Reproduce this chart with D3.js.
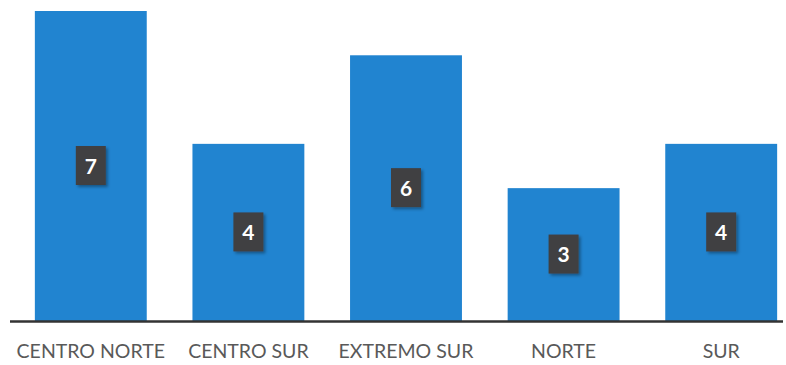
<!DOCTYPE html>
<html><head><meta charset="utf-8">
<script src="https://cdn.jsdelivr.net/npm/d3@7"></script>
<style>body{margin:0;background:#fff}</style>
</head><body>
<svg id="c" width="786" height="365"></svg>
<script>
const categories = ["CENTRO NORTE","CENTRO SUR","EXTREMO SUR","NORTE","SUR"];
const values = [7,4,6,3,4];

const svg = d3.select("#c");
const x = d3.scaleBand().domain(categories).range([12,800]).paddingInner(0.29).paddingOuter(0.145);
const y = d3.scaleLinear().domain([0,7]).range([321,11]);

const defs = svg.append("defs");
const f = defs.append("filter").attr("id","sh").attr("x","-30%").attr("y","-30%").attr("width","170%").attr("height","170%");
f.append("feDropShadow").attr("dx",2).attr("dy",2).attr("stdDeviation",1.5).attr("flood-color","#000").attr("flood-opacity",0.35);

svg.selectAll("rect.bar").data(values).join("rect").attr("class","bar")
  .attr("x",(d,i)=>x(categories[i])).attr("width",x.bandwidth())
  .attr("y",d=>y(d)).attr("height",d=>y(0)-y(d)).attr("fill","#2184d0");

svg.append("line").attr("x1",10).attr("x2",783).attr("y1",y(0)+0.5).attr("y2",y(0)+0.5)
  .attr("stroke","#333").attr("stroke-width",2.5);

const g = svg.selectAll("g.lbl").data(values).join("g").attr("class","lbl")
  .attr("transform",(d,i)=>`translate(${x(categories[i])+x.bandwidth()/2},${(y(d)+y(0))/2})`);
g.append("rect").attr("x",-15).attr("y",-20).attr("width",30).attr("height",39)
  .attr("fill","#414042").attr("filter","url(#sh)");
g.append("text").text(d=>d).attr("text-anchor","middle").attr("dy","0.36em")
  .attr("fill","#fff").attr("font-family","Lato, 'Open Sans', sans-serif").attr("font-weight","bold").attr("font-size",21);

svg.selectAll("text.cat").data(categories).join("text").attr("class","cat")
  .attr("x",d=>x(d)+x.bandwidth()/2).attr("y",358).attr("text-anchor","middle")
  .attr("fill","#595959").attr("font-family","Lato, 'Open Sans', sans-serif").attr("font-size",19.5)
  .text(d=>d);
</script>
</body></html>
